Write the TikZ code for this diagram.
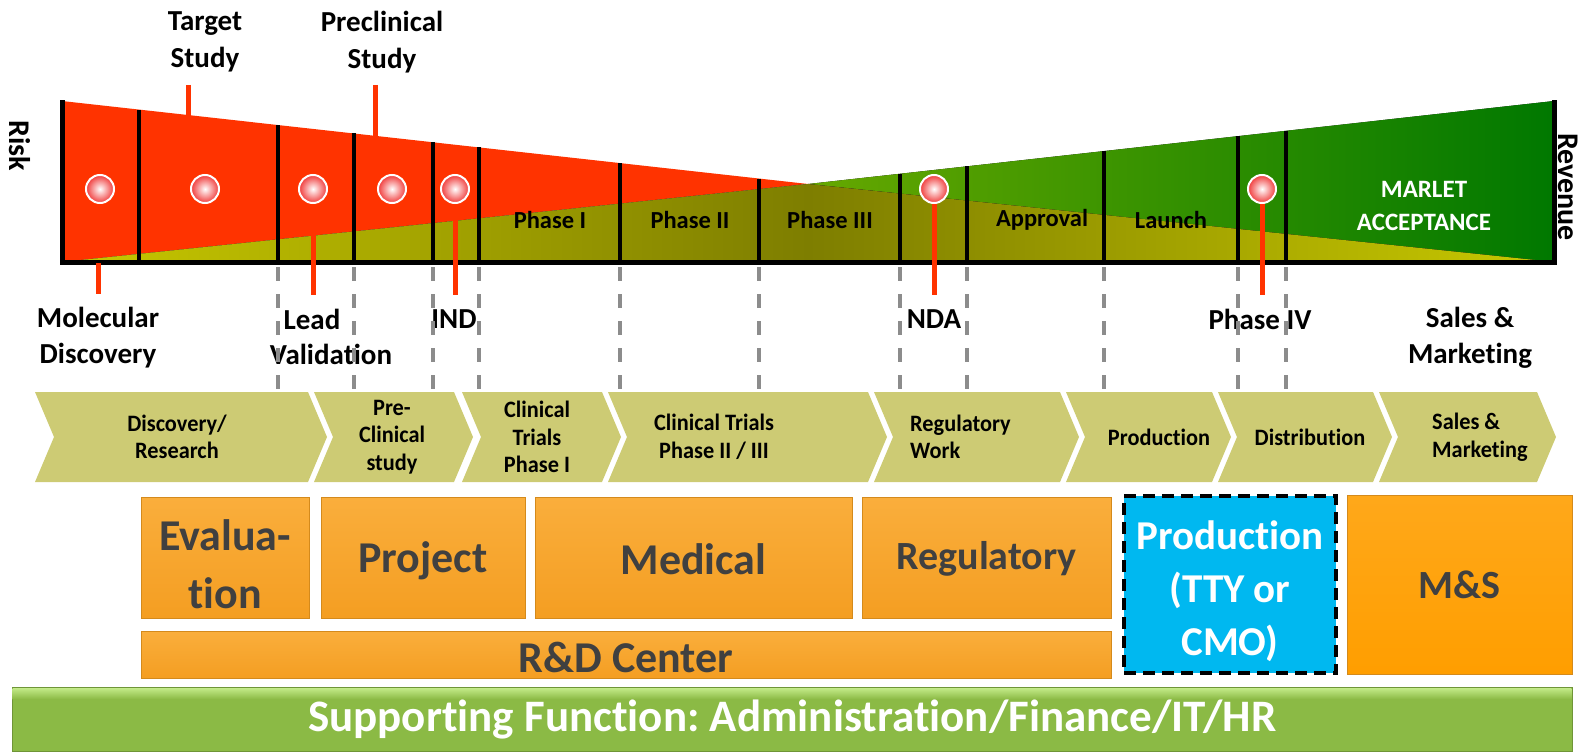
\documentclass[tikz,border=0pt]{standalone}
\usepackage{fontspec}
\setmainfont{Carlito}[Ligatures=CommonOff]
\newfontfamily\condfont{Carlito}[FakeStretch=0.95,Ligatures=CommonOff]
\frenchspacing
\definecolor{riskred}{HTML}{FF3300}
\definecolor{olivelt}{HTML}{C8C800}
\definecolor{olivedk}{HTML}{7E7E00}
\definecolor{greenlt}{HTML}{66A800}
\definecolor{greendk}{HTML}{007800}
\definecolor{ballred}{HTML}{F03A3A}
\definecolor{chevc}{HTML}{CDCB74}
\definecolor{orgtop}{HTML}{FAAE3C}
\definecolor{orgbot}{HTML}{F49E22}
\definecolor{orgdark}{HTML}{D48A1C}
\definecolor{mstop}{HTML}{FFA81A}
\definecolor{msbot}{HTML}{FF9E00}
\definecolor{txtgray}{HTML}{404040}
\definecolor{cyanbox}{HTML}{00B8F0}
\definecolor{gbar}{HTML}{8BBA45}
\definecolor{gbarlt}{HTML}{C2EA88}
\definecolor{dgray}{HTML}{8C8C8C}
\begin{document}
\begin{tikzpicture}[x=1pt,y=-1pt,
  lbl/.style={font=\fontsize{29}{36}\selectfont\bfseries, align=center, inner sep=0},
  ph/.style={font=\fontsize{24.5}{28}\selectfont\bfseries, inner sep=0},
  chev/.style={fill=chevc},
  chevtxt/.style={font=\condfont\fontsize{23.5}{27.5}\selectfont\bfseries, align=center, inner sep=0},
  obox/.style={draw=orgdark, line width=1pt, top color=orgtop, bottom color=orgbot,
     font=\fontsize{44}{58}\selectfont\bfseries, text=txtgray, align=center, inner sep=0},
  tick/.style={draw=riskred, line width=5pt},
  vbar/.style={line width=4pt, black},
  dashline/.style={draw=dgray, line width=3.2pt, dash pattern=on 14pt off 13pt},
  ballnode/.style={circle, minimum size=28pt, inner sep=0, draw=white, line width=2pt,
     inner color=white, outer color=ballred}
]
\useasboundingbox (0,0) rectangle (1583,752);

% ---- top labels and their ticks
\node[lbl, font=\fontsize{29}{37}\selectfont\bfseries] (target) at (205,42) {Target\\Study};
\node[lbl, font=\fontsize{29}{37}\selectfont\bfseries] (precl) at (382,42) {Preclinical\\Study};
\coordinate (t1a) at (188,85); \coordinate (t1b) at (188,125);
\coordinate (t2a) at (375,85); \coordinate (t2b) at (375,145);
\draw[tick] (t1a) -- (t1b);
\draw[tick] (t2a) -- (t2b);

% ---- risk / revenue polygons
\coordinate (tip) at (808,184);
\fill[riskred] (62,101) -- (tip) -- (62,262) -- cycle;
\fill[left color=greenlt, right color=greendk] (tip) -- (1554,101) -- (1554,262) -- cycle;
\fill[left color=olivelt, right color=olivedk] (62,262) -- (tip) -- (808,262) -- cycle;
\fill[left color=olivedk, right color=olivelt] (808,262) -- (tip) -- (1554,262) -- cycle;

% ---- vertical bars
\foreach \bx in {139,278,354,433,479,620,759}{
  \pgfmathsetmacro\ty{101+(\bx-62)/746*83}
  \draw[vbar] (\bx,262) -- (\bx,\ty);
}
\foreach \bx in {900,967,1104,1238,1286}{
  \pgfmathsetmacro\ty{101+(1554-\bx)/746*83}
  \draw[vbar] (\bx,262) -- (\bx,\ty);
}
\draw[line width=5pt, miter limit=10] (62,100) -- (62,262) -- (1554,262) -- (1554,100);

% ---- lower ticks
\draw[tick] (98,263) -- (98,294);
\draw[tick] (313,233) -- (313,295);
\draw[tick] (455,218) -- (455,295);
\draw[tick] (934,190) -- (934,295);
\draw[tick] (1262,190) -- (1262,295);

% ---- balls
\foreach \bx/\nm in {100/b1,205/b2,313/b3,392/b4,455/b5,934/b6,1262/b7}{
  \node[ballnode] (\nm) at (\bx,189) {};
}

% ---- phase labels
\node[ph] (p1) at (550,220) {Phase I};
\node[ph] (p2) at (690,220) {Phase II};
\node[ph] (p3) at (830,220) {Phase III};
\node[ph] (p4) at (1042,220) {Approval};
\node[ph] (p5) at (1171,220) {Launch};
\node[font=\fontsize{25}{33}\selectfont\bfseries, text=white, align=center, inner sep=0] (mkt) at (1424,206) {MARLET\\ACCEPTANCE};

\node[font=\fontsize{30}{36}\selectfont\bfseries, rotate=-90, inner sep=0] (risk) at (20,146) {Risk};
\node[font=\fontsize{30}{36}\selectfont\bfseries, rotate=-90, inner sep=0] (rev) at (1568,187) {Revenue};

% ---- lower labels
\node[lbl] (molec) at (98,338) {Molecular\\Discovery};
\node[lbl] (lead) at (312,319) {Lead};
\node[lbl] (valid) at (331,354) {Validation};
\node[lbl] (ind) at (454,319) {IND};
\node[lbl] (nda) at (934,319) {NDA};
\node[lbl] (ph4) at (1260,319) {Phase IV};
\node[lbl] (sm) at (1470,338) {Sales \&\\Marketing};

% ---- dashed guides (on top of labels)
\foreach \bx in {278,354,433,479,620,759,900,967,1104,1238,1286}{
  \draw[dashline] (\bx,267) -- (\bx,390);
}

% ---- chevrons
\def\d{19}
\foreach \L/\R in {35/308,314/454,462/602,608/868,874/1060,1066/1212,1218/1373,1379/1537}{
  \fill[chev] (\L,392) -- (\R,392) -- (\R+\d,437) -- (\R,482) -- (\L,482) -- (\L+\d,437) -- cycle;
}
\node[chevtxt] (c1) at (177,437) {Discovery/\\Research};
\node[chevtxt] (c2) at (392,437) {Pre-\\Clinical\\study};
\node[chevtxt] (c3) at (537,437) {Clinical\\Trials\\Phase I};
\node[chevtxt] (c4) at (714,437) {Clinical Trials\\Phase II / III};
\node[chevtxt, align=left, anchor=west] (c5) at (910,437) {Regulatory\\Work};
\node[chevtxt] (c6) at (1159,437) {Production};
\node[chevtxt] (c7) at (1310,437) {Distribution};
\node[chevtxt, align=left, anchor=west] (c8) at (1432,437) {Sales \&\\Marketing};

% ---- orange boxes
\node[obox, minimum width=168pt, minimum height=121pt] (eval) at (225,557.5) {};
\node[font=\fontsize{44}{58}\selectfont\bfseries, text=txtgray, align=center, inner sep=0] (evaltxt) at ([yshift=-7pt]eval.center) {Evalua-\\tion};
\node[obox, minimum width=204pt, minimum height=121pt] (proj) at (423,557.5) {};
\node[font=\fontsize{44}{58}\selectfont\bfseries, text=txtgray, inner sep=0] (projtxt) at ([yshift=-3pt]proj.center) {Project};
\node[obox, minimum width=317pt, minimum height=121pt] (med) at (693.5,557.5) {};
\node[font=\fontsize{44}{58}\selectfont\bfseries, text=txtgray, inner sep=0] (medtxt) at ([yshift=-2pt]med.center) {Medical};
\node[obox, minimum width=249pt, minimum height=121pt] (reg) at (986.5,557.5) {};
\node[font=\fontsize{40}{50}\selectfont\bfseries, text=txtgray, inner sep=0] (regtxt) at ([yshift=-1pt]reg.center) {Regulatory};
\node[obox, minimum width=970pt, minimum height=47pt] (rnd) at (626,654.5) {};
\node[font=\fontsize{44}{58}\selectfont\bfseries, text=txtgray, inner sep=0] (rndtxt) at ([yshift=-3pt]rnd.center) {R\&D Center};
\node[draw=black, line width=4pt, dash pattern=on 12pt off 7pt, fill=cyanbox, minimum width=212pt, minimum height=177pt] (prod) at (1230,584.5) {};
\node[text=white, font=\fontsize{41}{53}\selectfont\bfseries, align=center, inner sep=0] (prodtxt) at ([yshift=-7pt]prod.center) {Production\\(TTY or\\CMO)};
\node[obox, draw=orgdark, top color=mstop, bottom color=msbot, minimum width=225pt, minimum height=179pt] (ms) at (1459.5,584.5) {};
\node[font=\fontsize{40}{50}\selectfont\bfseries, text=txtgray, inner sep=0] (mstxt) at (ms.center) {M\&S};

% ---- supporting bar
\node[draw=gbar!80!black, line width=0.8pt, fill=gbar, minimum width=1560pt, minimum height=64pt, inner sep=0] (sup) at (792,719.5) {};
\fill[top color=gbarlt, bottom color=gbar] ([xshift=1pt,yshift=-1pt]sup.north west) rectangle ([xshift=-1pt,yshift=-12pt]sup.north east);
\node[font=\fontsize{45}{54}\selectfont\bfseries, text=white, inner sep=0] (suptxt) at (sup.center) {Supporting Function: Administration/Finance/IT/HR};
\end{tikzpicture}
\end{document}
